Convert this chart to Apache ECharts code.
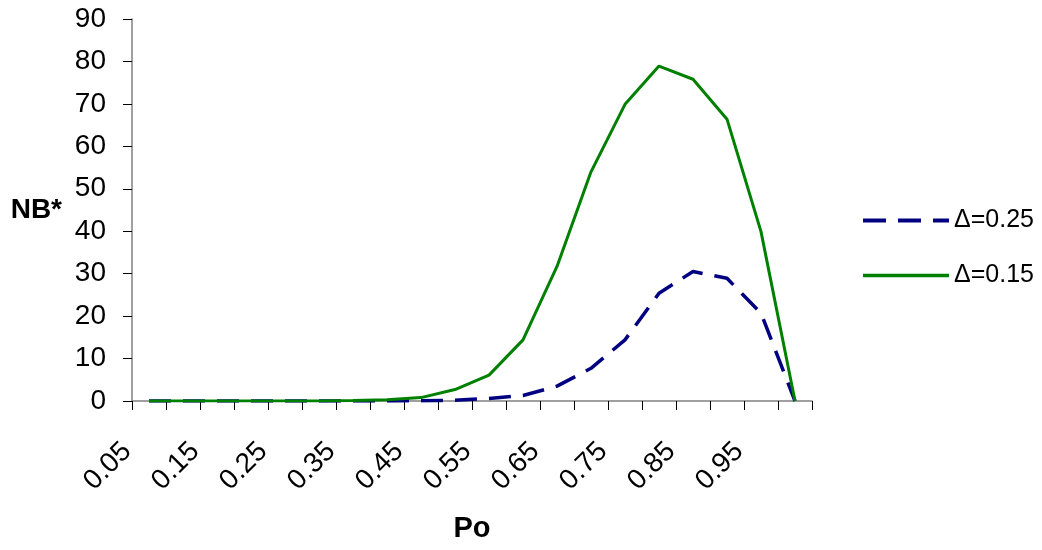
<!DOCTYPE html>
<html>
<head>
<meta charset="utf-8">
<script src="https://cdn.jsdelivr.net/npm/echarts@6/dist/echarts.min.js"></script>
<style>
html,body{margin:0;padding:0;background:#fff;}
#chart{width:1042px;height:550px;}
</style>
</head>
<body>
<div id="chart"></div>
<script>
const categories = ['0.05','0.10','0.15','0.20','0.25','0.30','0.35','0.40','0.45','0.50','0.55','0.60','0.65','0.70','0.75','0.80','0.85','0.90','0.95','1.00'];
const delta025 = [0,0,0,0,0,0,0,0,0.05,0.2,0.6,1.3,3.5,7.7,14.4,25.4,30.5,28.9,20.7,0];
const delta015 = [0,0,0,0,0,0,0.1,0.3,0.8,2.7,6.1,14.4,31.7,54.0,69.9,78.9,75.8,66.4,39.9,0];
const seriesNames = ['Δ=0.25','Δ=0.15'];
const yTicks = {min:0, max:90, interval:10};
const xName = 'Po';
const yName = 'NB*';

const FONT = '"Liberation Sans", Arial, sans-serif';
const BLUE = '#000080', GREEN = '#008000';
const chart = echarts.init(document.getElementById('chart'), null, {renderer:'canvas'});
chart.setOption({
  animation:false,
  backgroundColor:'#ffffff',
  grid:{left:132, right:230, top:19, bottom:149, containLabel:false},
  legend:{
    orient:'vertical',
    left:856, top:203,
    itemWidth:86, itemHeight:20, itemGap:30,
    itemStyle:{opacity:0},
    textStyle:{fontFamily:FONT, fontSize:25, color:'#000', lineHeight:20},
    data:[
      {name:seriesNames[0], lineStyle:{color:BLUE, width:4, type:[23,12]}},
      {name:seriesNames[1], lineStyle:{color:GREEN, width:3.5, type:'solid'}}
    ]
  },
  xAxis:{
    type:'category',
    data:categories,
    boundaryGap:true,
    name:xName,
    nameLocation:'middle',
    nameGap:113,
    nameTextStyle:{fontFamily:FONT, fontSize:29, fontWeight:'bold', color:'#000'},
    axisLine:{lineStyle:{color:'#808080', width:1.5}},
    axisTick:{show:true, interval:0, length:9, lineStyle:{color:'#000'}},
    axisLabel:{interval:1, rotate:45, margin:24, padding:[0,31,0,0], fontFamily:FONT, fontSize:28, color:'#000'},
    splitLine:{show:false}
  },
  yAxis:{
    type:'value',
    min:yTicks.min, max:yTicks.max, interval:yTicks.interval,
    name:yName,
    nameLocation:'middle',
    nameRotate:0,
    nameGap:70,
    nameTextStyle:{fontFamily:FONT, fontSize:28, fontWeight:'bold', color:'#000'},
    axisLine:{show:true, lineStyle:{color:'#808080', width:1.5}},
    axisTick:{show:true, length:9, lineStyle:{color:'#000'}},
    axisLabel:{margin:26, fontFamily:FONT, fontSize:28, color:'#000'},
    splitLine:{show:false}
  },
  series:[
    {name:seriesNames[0], type:'line', data:delta025, symbol:'none', showSymbol:false,
     color:BLUE, lineStyle:{color:BLUE, width:3.5, type:[22,12]}},
    {name:seriesNames[1], type:'line', data:delta015, symbol:'none', showSymbol:false,
     color:GREEN, lineStyle:{color:GREEN, width:3}}
  ]
});
</script>
</body>
</html>
